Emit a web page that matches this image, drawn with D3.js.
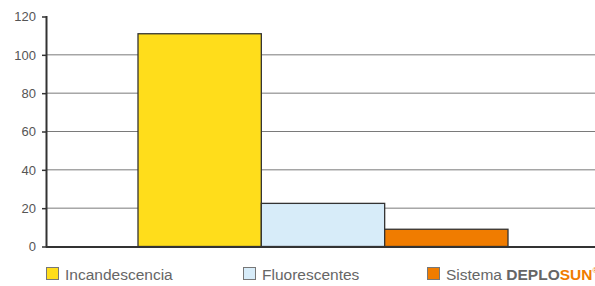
<!DOCTYPE html>
<html>
<head>
<meta charset="utf-8">
<script src="https://cdn.jsdelivr.net/npm/d3@7"></script>
<style>
  body { margin: 0; background: #fff; }
  svg { display: block; font-family: "Liberation Sans", Arial, sans-serif; }
</style>
</head>
<body>
<div id="chart"></div>
<script>
var categories = ["Incandescencia", "Fluorescentes", "Sistema DEPLOSUN"];
var values = [111, 22.5, 9];
var colors = ["#ffdd1b", "#d7ecf9", "#f07c00"];
var yTicks = [0, 20, 40, 60, 80, 100, 120];

var width = 595, height = 286;

var svg = d3.select("#chart").append("svg")
  .attr("width", width)
  .attr("height", height);

var y = d3.scaleLinear().domain([0, 120]).range([246.5, 16.5]);
var x = d3.scaleBand().domain(categories).range([138, 508]).paddingInner(0);

// gridlines
svg.append("g").selectAll("line")
  .data(yTicks.filter(function(d){ return d > 0 && d < 120; }))
  .enter().append("line")
  .attr("x1", 46).attr("x2", width)
  .attr("y1", function(d){ return y(d); })
  .attr("y2", function(d){ return y(d); })
  .attr("stroke", "#7a7a7a")
  .attr("stroke-width", 1);

// y axis
var yAxis = d3.axisLeft(y).tickValues(yTicks).tickSize(4).tickPadding(6);
var gy = svg.append("g").attr("transform", "translate(46,0)").call(yAxis);
gy.select(".domain").remove();
gy.selectAll(".tick line").attr("stroke", "#333").attr("stroke-width", 1.5);
gy.selectAll(".tick text")
  .attr("fill", "#555")
  .style("font-size", "13px")
  .style("font-family", "Liberation Sans, Arial, sans-serif");
svg.append("line")
  .attr("x1", 46.5).attr("x2", 46.5)
  .attr("y1", y(120) - 0.5).attr("y2", y(0) + 1)
  .attr("stroke", "#333").attr("stroke-width", 2);

// bars
svg.append("g").selectAll("rect")
  .data(values)
  .enter().append("rect")
  .attr("x", function(d, i){ return x(categories[i]); })
  .attr("y", function(d){ return y(d); })
  .attr("width", x.bandwidth())
  .attr("height", function(d){ return y(0) - y(d); })
  .attr("fill", function(d, i){ return colors[i]; })
  .attr("stroke", "#333")
  .attr("stroke-width", 1.3);

// x axis line
svg.append("line")
  .attr("x1", 46).attr("x2", width)
  .attr("y1", y(0) + 0.5).attr("y2", y(0) + 0.5)
  .attr("stroke", "#333").attr("stroke-width", 2);

// legend
var legendX = [46, 243, 427];
var lg = svg.append("g").selectAll("g")
  .data(categories)
  .enter().append("g")
  .attr("transform", function(d, i){ return "translate(" + legendX[i] + ",267)"; });
lg.append("rect")
  .attr("x", 0.5).attr("y", 0.5)
  .attr("width", 12).attr("height", 12)
  .attr("fill", function(d, i){ return colors[i]; })
  .attr("stroke", "#777").attr("stroke-width", 1);
var lt = lg.append("text")
  .attr("x", 19).attr("y", 12.5)
  .attr("fill", "#666")
  .style("font-size", "15.5px");
lt.each(function(d){
  var t = d3.select(this);
  if (d.indexOf("DEPLOSUN") >= 0) {
    t.append("tspan").text("Sistema ");
    t.append("tspan").text("DEPLO").attr("font-weight", "bold").attr("fill", "#666");
    t.append("tspan").text("SUN").attr("font-weight", "bold").attr("fill", "#f07c00");
    t.append("tspan").text("®").attr("fill", "#f07c00").attr("dy", -7).style("font-size", "7px");
  } else {
    t.text(d);
  }
});
</script>
</body>
</html>
